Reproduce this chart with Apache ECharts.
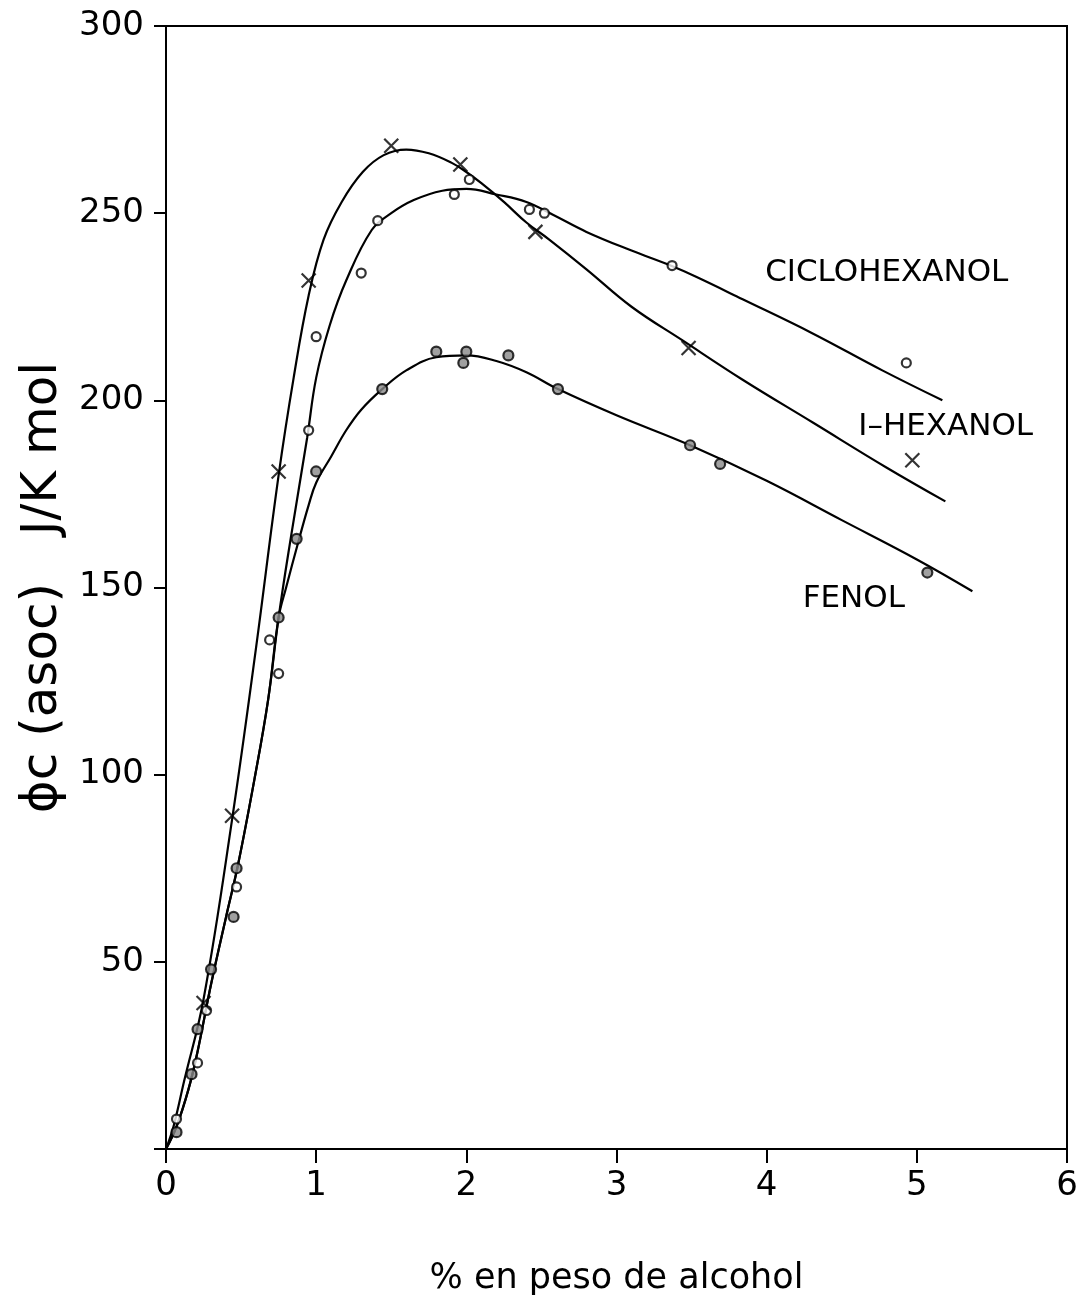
<!DOCTYPE html>
<html><head><meta charset="utf-8">
<script src="https://cdn.jsdelivr.net/npm/echarts@6/dist/echarts.min.js"></script>
<style>html,body{margin:0;padding:0;background:#fff}#c{width:1083px;height:1308px}</style>
</head><body><div id="c"></div>
<script>
// Axis ticks
const xTicks = [0, 1, 2, 3, 4, 5, 6];
const yTicks = [50, 100, 150, 200, 250, 300];

const ciclohexanolPts = [[0.07,8],[0.21,23],[0.27,37],[0.47,70],[0.69,136],[0.75,127],[0.95,192],[1.0,217],[1.3,234],[1.41,248],[1.92,255],[2.02,259],[2.42,251],[2.52,250],[3.37,236],[4.93,210]];
const hexanolPts = [[0.25,39],[0.44,89],[0.75,181],[0.95,232],[1.5,268],[1.96,263],[2.46,245],[3.48,214],[4.97,184]];
const fenolPts = [[0.07,4.5],[0.17,20],[0.21,32],[0.30,48],[0.45,62],[0.47,75],[0.75,142],[0.87,163],[1.0,181],[1.44,203],[1.80,213],[1.98,210],[2.0,213],[2.28,212],[2.61,203],[3.49,188],[3.69,183],[5.07,154]];

// Hand-drawn curves
const ciclohexanolCurve = [[0,0],[0.07,6],[0.15,16],[0.21,26],[0.3,44],[0.4,62],[0.48,76],[0.59,99],[0.68,120],[0.75,142],[0.83,163],[0.94,190],[1.0,206],[1.09,220],[1.2,232],[1.37,245.5],[1.5,250],[1.65,253.5],[1.84,256],[2.0,256.5],[2.2,255],[2.4,253],[2.58,249.5],[2.8,245],[3.1,240],[3.36,236],[3.53,233],[3.84,227],[4.3,218],[4.77,208],[5.17,200]];
const hexanolCurve = [[0,0],[0.05,6],[0.12,18],[0.25,40],[0.44,88],[0.6,134],[0.75,180],[0.85,206],[0.95,228],[1.05,243],[1.17,253],[1.31,261],[1.45,265.5],[1.6,267],[1.75,266],[1.9,263.5],[2.0,261],[2.1,258],[2.25,253],[2.4,247.5],[2.55,243],[2.8,235],[3.1,225],[3.44,216],[3.84,205.5],[4.31,194],[4.8,182],[5.19,173]];
const fenolCurve = [[0,0],[0.07,6],[0.15,16],[0.21,26],[0.3,44],[0.4,62],[0.48,76],[0.59,99],[0.68,120],[0.75,142],[0.8,150],[0.88,162],[0.95,172],[1.0,178],[1.1,185],[1.2,192],[1.3,197.5],[1.44,203],[1.6,208],[1.8,211.5],[2.0,212],[2.2,210.5],[2.4,207.5],[2.61,203],[3.0,196],[3.49,188],[4.0,178.5],[4.5,168],[5.0,157.5],[5.37,149]];

// Curve labels
const curveLabels = [
  {name: 'CICLOHEXANOL', value: [3.99, 234]},
  {name: 'I\u2013HEXANOL', value: [4.61, 193]},
  {name: 'FENOL', value: [4.24, 147]}
];

const FONT = 'DejaVu Sans';
const INK = '#000';
const chart = echarts.init(document.getElementById('c'), null, {renderer: 'canvas'});

function lineSeries(data){
  return {type:'line', data:data, smooth:0.4, symbol:'none', silent:true,
    lineStyle:{color:INK, width:2.2}, z:2};
}

chart.setOption({
  animation:false,
  backgroundColor:'#fff',
  grid:{left:166, right:16, top:26, bottom:159, show:true, borderColor:INK, borderWidth:2, backgroundColor:'transparent'},
  xAxis:{type:'value', min:0, max:6, interval:1,
    axisLine:{show:true, onZero:false, lineStyle:{color:INK, width:2}},
    axisTick:{show:true, inside:false, length:14, lineStyle:{color:INK, width:2}},
    splitLine:{show:false},
    axisLabel:{color:INK, fontFamily:FONT, fontSize:34, margin:20,
      formatter:v=> xTicks.includes(v) ? String(v) : ''},
    name:'% en peso de alcohol', nameLocation:'middle', nameGap:112,
    nameTextStyle:{color:INK, fontFamily:FONT, fontSize:35}
  },
  yAxis:{type:'value', min:0, max:300, interval:50,
    axisLine:{show:true, onZero:false, lineStyle:{color:INK, width:2}},
    axisTick:{show:true, inside:false, length:12, lineStyle:{color:INK, width:2}},
    splitLine:{show:false},
    axisLabel:{color:INK, fontFamily:FONT, fontSize:34, margin:22,
      formatter:v=> yTicks.includes(v) ? String(v) : ''},
    name:'\u03D5c (asoc)   J/K mol', nameLocation:'middle', nameGap:98,
    nameTextStyle:{color:INK, fontFamily:FONT, fontSize:50}
  },
  series:[
    lineSeries(ciclohexanolCurve),
    lineSeries(hexanolCurve),
    lineSeries(fenolCurve),
    {type:'scatter', data:ciclohexanolPts, symbol:'circle', symbolSize:9, silent:true, z:5,
      itemStyle:{color:'#fff', borderColor:INK, borderWidth:2.2}},
    {type:'scatter', data:fenolPts, symbol:'circle', symbolSize:10, silent:true, z:5,
      itemStyle:{color:'#888', borderColor:INK, borderWidth:2.2}},
    {type:'scatter', data:hexanolPts, symbol:'path://M0,0L10,10M10,0L0,10', symbolSize:14, silent:true, z:5,
      itemStyle:{color:'transparent', borderColor:INK, borderWidth:2.2}},
    {type:'scatter', data:curveLabels, symbolSize:0, silent:true, z:6,
      itemStyle:{color:'#000', opacity:1},
      label:{show:true, formatter:'{b}', position:'right', distance:0, opacity:1,
        color:'#000', fontFamily:FONT, fontSize:31}}
  ]
});
</script>
</body></html>
